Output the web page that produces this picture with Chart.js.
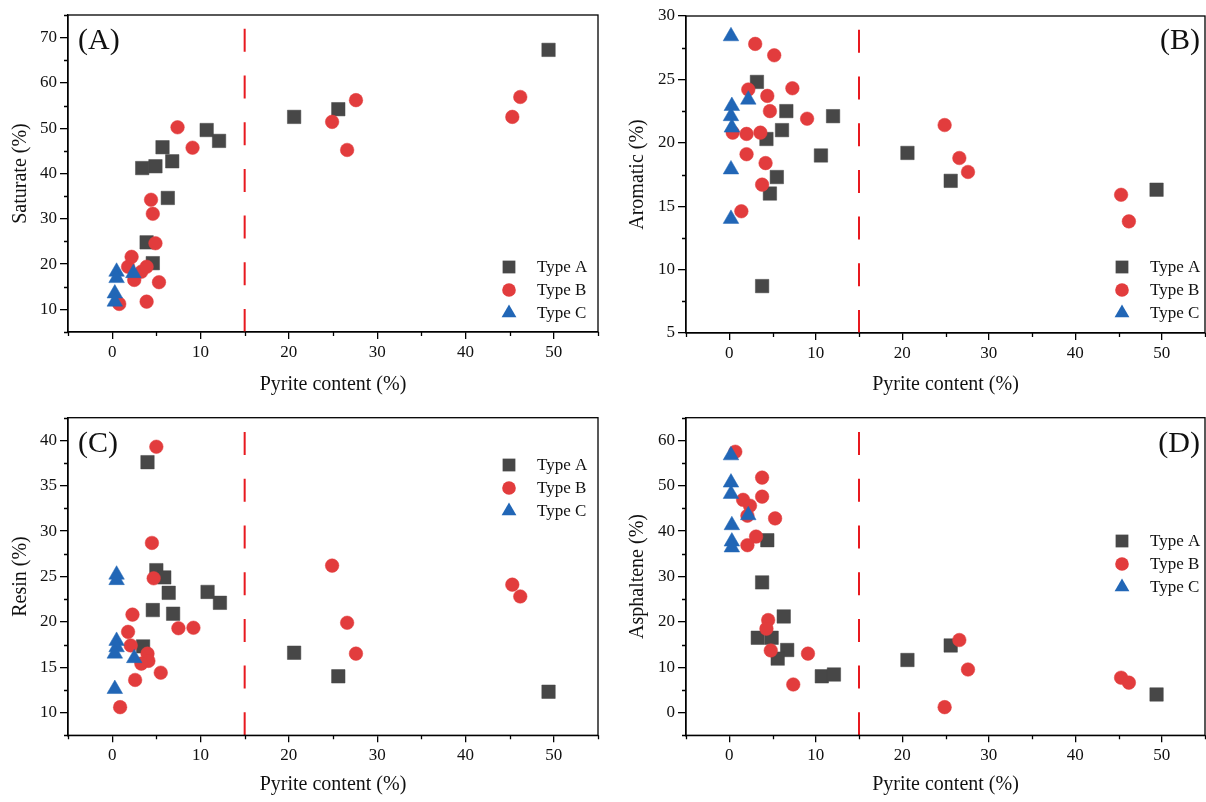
<!DOCTYPE html>
<html>
<head>
<meta charset="utf-8">
<script src="https://cdn.jsdelivr.net/npm/chart.js@4.4.0/dist/chart.umd.min.js"></script>
<style>
  body { margin: 0; background: #fff; }
  #wrap { position: relative; width: 1206px; height: 802px; }
  canvas { position: absolute; }
</style>
</head>
<body>
<div id="wrap">
  <canvas id="saturateChart" width="603" height="401" style="left:0;top:0"></canvas>
  <canvas id="aromaticChart" width="603" height="401" style="left:603px;top:0"></canvas>
  <canvas id="resinChart" width="603" height="401" style="left:0;top:401px"></canvas>
  <canvas id="asphalteneChart" width="603" height="401" style="left:603px;top:401px"></canvas>
</div>
<script>
// tick labels
const pyriteTicks = [0, 10, 20, 30, 40, 50];
const saturateTicks = [10, 20, 30, 40, 50, 60, 70];
const aromaticTicks = [5, 10, 15, 20, 25, 30];
const resinTicks = [10, 15, 20, 25, 30, 35, 40];
const asphalteneTicks = [0, 10, 20, 30, 40, 50, 60];
const typeLabels = ['Type A', 'Type B', 'Type C'];
const thresholdPyrite = 15;

// (A) saturate
const satAx = [3.4, 3.9, 4.6, 4.9, 5.7, 6.3, 6.8, 10.7, 12.1, 20.6, 25.6, 49.4];
const satAy = [41.2, 24.8, 20.2, 41.6, 45.8, 34.6, 42.7, 49.6, 47.2, 52.5, 54.2, 67.3];
const satBx = [0.8, 1.8, 2.2, 2.5, 3.3, 3.9, 3.9, 4.4, 4.6, 4.9, 5.3, 7.4, 9.1, 24.9, 26.6, 27.6, 45.3, 46.2];
const satBy = [11.2, 19.4, 21.6, 16.5, 18.3, 19.4, 11.7, 34.2, 31.1, 24.6, 16.0, 50.2, 45.7, 51.4, 45.2, 56.2, 52.5, 56.9];
const satCx = [0.5, 0.5, 2.4, 0.3, 0.3];
const satCy = [18.3, 16.9, 18.0, 13.5, 11.7];

// (B) aromatic
const aroAx = [3.2, 6.6, 12.0, 6.1, 4.3, 10.6, 5.5, 4.7, 3.8, 20.6, 25.6, 49.4];
const aroAy = [24.8, 22.5, 22.1, 21.0, 20.3, 19.0, 17.3, 16.0, 8.7, 19.2, 17.0, 16.3];
const aroBx = [3.0, 5.2, 2.2, 7.3, 4.4, 4.7, 9.0, 0.4, 2.0, 3.6, 2.0, 4.2, 3.8, 1.4, 24.9, 26.6, 27.6, 45.3, 46.2];
const aroBy = [27.8, 26.9, 24.2, 24.3, 23.7, 22.5, 21.9, 20.8, 20.7, 20.8, 19.1, 18.4, 16.7, 14.6, 21.4, 18.8, 17.7, 15.9, 13.8];
const aroCx = [0.2, 2.2, 0.3, 0.2, 0.3, 0.2, 0.2];
const aroCy = [28.4, 23.4, 22.9, 22.1, 21.2, 17.9, 14.0];

// (C) resin
const resAx = [4.0, 5.0, 5.9, 6.4, 10.8, 12.2, 4.6, 6.9, 3.5, 20.6, 25.6, 49.4];
const resAy = [37.6, 25.7, 24.9, 23.2, 23.3, 22.1, 21.3, 20.9, 17.3, 16.6, 14.0, 12.3];
const resBx = [5.0, 4.5, 4.7, 2.3, 1.8, 7.5, 9.2, 2.1, 4.0, 4.1, 3.3, 5.5, 2.6, 0.9, 24.9, 26.6, 27.6, 45.3, 46.2];
const resBy = [39.3, 28.7, 24.8, 20.8, 18.9, 19.3, 19.35, 17.4, 16.5, 15.7, 15.4, 14.4, 13.6, 10.6, 26.2, 19.9, 16.5, 24.1, 22.8];
const resCx = [0.5, 0.5, 0.5, 0.5, 0.3, 2.5, 0.3];
const resCy = [25.2, 24.6, 17.9, 17.2, 16.5, 16.0, 12.6];

// (D) asphaltene
const aspAx = [4.4, 3.8, 6.3, 3.3, 4.9, 6.7, 5.6, 10.7, 12.1, 20.6, 25.6, 49.4];
const aspAy = [38.0, 28.7, 21.2, 16.5, 16.5, 13.8, 11.9, 8.0, 8.4, 11.6, 14.8, 4.0];
const aspBx = [0.7, 3.8, 3.8, 1.6, 2.4, 2.1, 5.3, 3.1, 2.1, 4.5, 4.3, 4.8, 9.1, 7.4, 24.9, 26.6, 27.6, 45.3, 46.2];
const aspBy = [57.5, 51.8, 47.6, 46.9, 45.6, 43.4, 42.8, 38.8, 36.9, 20.4, 18.5, 13.7, 13.0, 6.2, 1.2, 16.0, 9.5, 7.7, 6.6];
const aspCx = [0.2, 0.2, 0.2, 2.2, 0.3, 0.3, 0.3];
const aspCy = [56.7, 50.7, 48.2, 43.5, 41.3, 37.7, 36.4];

const serif = '"Liberation Serif", "Times New Roman", serif';
const typeStyles = [
    { pointStyle: 'rect', radius: 9.5, color: '#474747', order: 3 },
    { pointStyle: 'circle', radius: 6.8, color: '#e23c3d', order: 2 },
    { pointStyle: 'triangle', radius: 9, color: '#2166b6', order: 1 }
];

function makeDatasets(series) {
    return series.map(([xs, ys], i) => ({
        label: typeLabels[i],
        data: xs.map((x, j) => ({ x: x, y: ys[j] })),
        pointStyle: typeStyles[i].pointStyle,
        pointRadius: typeStyles[i].radius,
        pointHoverRadius: typeStyles[i].radius,
        backgroundColor: typeStyles[i].color,
        borderColor: typeStyles[i].color,
        borderWidth: 0.5,
        order: typeStyles[i].order
    }));
}

function drawMarker(ctx, style, r, x, y) {
    ctx.beginPath();
    if (style === 'rect') {
        const s = r * Math.SQRT1_2;
        ctx.rect(x - s, y - s, 2 * s, 2 * s);
    } else if (style === 'triangle') {
        ctx.moveTo(x, y - r);
        ctx.lineTo(x + Math.sin(2 * Math.PI / 3) * r, y + r / 2);
        ctx.lineTo(x - Math.sin(2 * Math.PI / 3) * r, y + r / 2);
        ctx.closePath();
    } else {
        ctx.arc(x, y, r, 0, Math.PI * 2);
    }
    ctx.fill();
}

// dashed threshold, box frame, minor ticks, panel letter and legend
const panelDecor = {
    id: 'panelDecor',
    afterDatasetsDraw(chart, args, opts) {
        const { ctx, chartArea: a, scales: { x, y } } = chart;
        ctx.save();

        const px = x.getPixelForValue(thresholdPyrite);
        ctx.strokeStyle = '#e8191f';
        ctx.lineWidth = 2;
        ctx.setLineDash([23, 23.7]);
        ctx.beginPath();
        ctx.moveTo(px, a.bottom);
        ctx.lineTo(px, a.top);
        ctx.stroke();
        ctx.setLineDash([]);

        ctx.strokeStyle = '#000';
        ctx.lineWidth = 1.3;
        ctx.strokeRect(a.left, a.top, a.right - a.left, a.bottom - a.top);

        ctx.beginPath();
        for (let v = x.min; v <= x.max + 1e-6; v += opts.xMinor) {
            if (pyriteTicks.includes(Math.round(v * 100) / 100)) continue;
            const p = Math.round(x.getPixelForValue(v)) + 0.5;
            ctx.moveTo(p, a.bottom);
            ctx.lineTo(p, a.bottom + 4);
        }
        for (let v = y.min; v <= y.max + 1e-6; v += opts.yMinor) {
            if (opts.yTicks.includes(Math.round(v * 100) / 100)) continue;
            const p = Math.round(y.getPixelForValue(v)) + 0.5;
            ctx.moveTo(a.left - 4, p);
            ctx.lineTo(a.left, p);
        }
        ctx.stroke();

        ctx.fillStyle = '#111';
        ctx.font = '30px ' + serif;
        ctx.textBaseline = 'middle';
        ctx.textAlign = opts.letterAlign;
        ctx.fillText(opts.letter, opts.letterX, opts.letterY);

        ctx.font = '17px ' + serif;
        ctx.textAlign = 'left';
        chart.data.datasets.forEach((ds, i) => {
            const ly = opts.legendY + i * 23;
            ctx.fillStyle = ds.backgroundColor;
            drawMarker(ctx, ds.pointStyle, ds.pointRadius * (ds.pointStyle === 'circle' ? 1 : 0.95), opts.legendX, ly);
            ctx.fillStyle = '#111';
            ctx.fillText(ds.label, opts.legendX + 28, ly + 1);
        });
        ctx.restore();
    }
};

function makeChart(id, cfg) {
    const tickFont = { family: serif, size: 17 };
    const titleFont = { family: serif, size: 20 };
    return new Chart(document.getElementById(id), {
        type: 'scatter',
        data: { datasets: makeDatasets(cfg.series) },
        options: {
            responsive: false,
            animation: false,
            devicePixelRatio: 1,
            layout: { padding: cfg.padding, autoPadding: false },
            plugins: {
                legend: { display: false },
                tooltip: { enabled: false },
                panelDecor: cfg.decor
            },
            scales: {
                x: {
                    type: 'linear',
                    min: -5,
                    max: 55,
                    afterBuildTicks: s => { s.ticks = pyriteTicks.map(v => ({ value: v })); },
                    afterFit: s => { s.height = cfg.xHeight; },
                    ticks: { font: tickFont, color: '#111', padding: 3, maxRotation: 0 },
                    grid: { drawOnChartArea: false, tickLength: 7, color: '#000', lineWidth: 1.3 },
                    border: { color: '#000', width: 1.3 },
                    title: { display: true, text: 'Pyrite content (%)', font: titleFont, color: '#111', padding: { top: 0, bottom: cfg.xTitlePad } }
                },
                y: {
                    type: 'linear',
                    min: cfg.yMin,
                    max: cfg.yMax,
                    afterBuildTicks: s => { s.ticks = cfg.yTicks.map(v => ({ value: v })); },
                    afterFit: s => { s.width = cfg.yWidth; },
                    ticks: { font: tickFont, color: '#111', padding: 3 },
                    grid: { drawOnChartArea: false, tickLength: 8, color: '#000', lineWidth: 1.3 },
                    border: { color: '#000', width: 1.3 },
                    title: { display: true, text: cfg.yTitle, font: titleFont, color: '#111', padding: { top: cfg.yTitlePad, bottom: 0 } }
                }
            }
        },
        plugins: [panelDecor]
    });
}

makeChart('saturateChart', {
    series: [[satAx, satAy], [satBx, satBy], [satCx, satCy]],
    yMin: 5, yMax: 75, yTicks: saturateTicks, yTitle: 'Saturate (%)',
    padding: { left: 0, right: 5, top: 15, bottom: 0 },
    yWidth: 68, xHeight: 69, xTitlePad: 4.6, yTitlePad: 9,
    decor: { xMinor: 5, yMinor: 5, yTicks: saturateTicks, letter: '(A)', letterAlign: 'left', letterX: 78, letterY: 41,
             legendX: 509, legendY: 267 }
});

makeChart('aromaticChart', {
    series: [[aroAx, aroAy], [aroBx, aroBy], [aroCx, aroCy]],
    yMin: 5, yMax: 30, yTicks: aromaticTicks, yTitle: 'Aromatic (%)',
    padding: { left: 0, right: 1, top: 16, bottom: 0 },
    yWidth: 83, xHeight: 68, xTitlePad: 4.6, yTitlePad: 22.6,
    decor: { xMinor: 5, yMinor: 2.5, yTicks: aromaticTicks, letter: '(B)', letterAlign: 'right', letterX: 597, letterY: 41,
             legendX: 519, legendY: 267 }
});

makeChart('resinChart', {
    series: [[resAx, resAy], [resBx, resBy], [resCx, resCy]],
    yMin: 7.5, yMax: 42.5, yTicks: resinTicks, yTitle: 'Resin (%)',
    padding: { left: 0, right: 5, top: 16.7, bottom: 0 },
    yWidth: 68, xHeight: 66.7, xTitlePad: 5.6, yTitlePad: 9,
    decor: { xMinor: 5, yMinor: 2.5, yTicks: resinTicks, letter: '(C)', letterAlign: 'left', letterX: 78, letterY: 43,
             legendX: 509, legendY: 64 }
});

makeChart('asphalteneChart', {
    series: [[aspAx, aspAy], [aspBx, aspBy], [aspCx, aspCy]],
    yMin: -5, yMax: 65, yTicks: asphalteneTicks, yTitle: 'Asphaltene (%)',
    padding: { left: 0, right: 1, top: 16.7, bottom: 0 },
    yWidth: 83, xHeight: 66.7, xTitlePad: 5.6, yTitlePad: 22.6,
    decor: { xMinor: 5, yMinor: 5, yTicks: asphalteneTicks, letter: '(D)', letterAlign: 'right', letterX: 597, letterY: 43,
             legendX: 519, legendY: 140 }
});
</script>
</body>
</html>
